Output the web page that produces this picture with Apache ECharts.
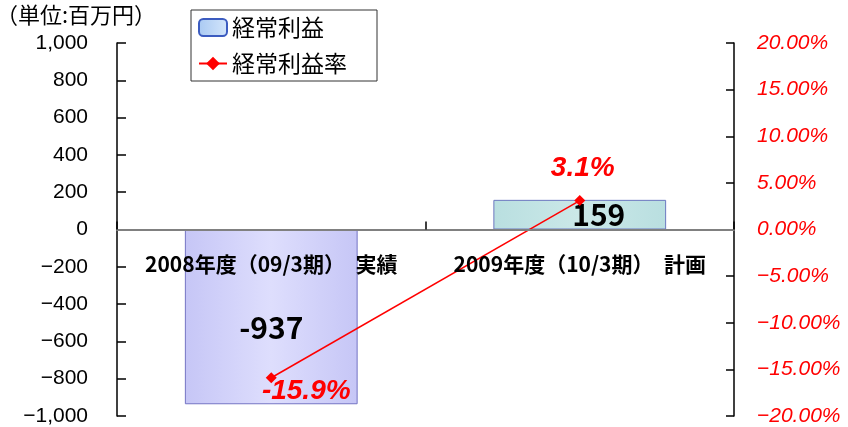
<!DOCTYPE html>
<html>
<head>
<meta charset="utf-8">
<script src="https://cdn.jsdelivr.net/npm/echarts@6/dist/echarts.min.js"></script>
<style>
  html, body { margin: 0; padding: 0; background: #fff; }
  #main { width: 848px; height: 427px; }
</style>
</head>
<body>
<div id="main"></div>
<script>
// data
const categories = ['2008年度（09/3期）　実績', '2009年度（10/3期）　計画'];
const profit = [-937, 159];          // 経常利益 (百万円)
const profitRate = [-15.9, 3.1];     // 経常利益率 (%)
const leftRange = [-1000, 1000, 200];
const rightRange = [-20, 20, 5];

const jpFont = '"Noto Sans CJK JP", "Noto Sans", sans-serif';

function barGrad(edge, mid) {
  return new echarts.graphic.LinearGradient(0, 0, 1, 0, [
    { offset: 0, color: edge },
    { offset: 0.5, color: mid },
    { offset: 1, color: edge }
  ]);
}

// per-bar looks and label nudges
const barStyles = [
  { color: barGrad('#c6c6f6', '#dedefd'), borderColor: '#7474c4' },
  { color: barGrad('#b9dfe0', '#cbe8e8'), borderColor: '#6c78c0' }
];
const barLabelOffsets = [[0, 11], [19, 0]];
const rateLabelPos = ['bottom', 'top'];
const rateLabelOffsets = [[35, -18], [3, -1]];

const fmtNum = v => {
  const s = Math.abs(v).toLocaleString('en-US');
  return v < 0 ? '\u2212' + s : s;
};
const fmtPct = v => {
  const s = Math.abs(v).toFixed(2) + '%';
  return v < 0 ? '\u2212' + s : s;
};

// grid box in px; the category axis sits on the zero line
const gridTop = 43, gridBottom = 11, chartH = 427;
const zeroY = gridTop + (chartH - gridTop - gridBottom) / 2;

const chart = echarts.init(document.getElementById('main'));
chart.setOption({
  animation: false,
  textStyle: { fontFamily: jpFont },
  title: {
    text: '（単位:百万円）',
    left: -9, top: -1,
    textStyle: { fontSize: 22, fontWeight: 'normal', color: '#000', fontFamily: jpFont }
  },
  legend: {
    orient: 'vertical',
    left: 191, top: 10,
    padding: [6, 30, 6, 7],
    borderColor: '#333', borderWidth: 1,
    itemWidth: 28, itemHeight: 17,
    itemGap: 13,
    textStyle: { fontSize: 23, color: '#000', fontFamily: jpFont },
    data: ['経常利益', '経常利益率']
  },
  grid: {
    left: 117, right: 114, top: gridTop, bottom: gridBottom,
    containLabel: false, outerBoundsMode: 'none'
  },
  xAxis: {
    type: 'category',
    data: categories,
    position: 'bottom',
    offset: -(chartH - gridBottom - zeroY),
    z: 10,
    axisLine: { onZero: false, lineStyle: { color: '#808080', width: 2 } },
    axisTick: { show: true, interval: 0, inside: true, length: 8, lineStyle: { color: '#000', width: 1.5 } },
    axisLabel: {
      interval: 0, hideOverlap: false, margin: 24,
      fontSize: 21, fontWeight: 'bold', color: '#000', fontFamily: jpFont
    }
  },
  yAxis: [
    {
      type: 'value',
      min: leftRange[0], max: leftRange[1], interval: leftRange[2],
      splitLine: { show: false },
      axisLine: { show: true, lineStyle: { color: '#000', width: 1.5 } },
      axisTick: { show: true, inside: true, length: 9, lineStyle: { color: '#000', width: 1.5 } },
      axisLabel: {
        margin: 29, fontSize: 21, color: '#000', fontFamily: 'Liberation Sans, Arial, sans-serif',
        formatter: fmtNum
      }
    },
    {
      type: 'value',
      min: rightRange[0], max: rightRange[1], interval: rightRange[2],
      splitLine: { show: false },
      axisLine: { show: true, lineStyle: { color: '#000', width: 1.5 } },
      axisTick: { show: true, inside: true, length: 8, lineStyle: { color: '#000', width: 1.5 } },
      axisLabel: {
        margin: 23, fontSize: 21, color: '#ff0000', fontStyle: 'italic',
        fontFamily: 'Liberation Sans, Arial, sans-serif',
        formatter: fmtPct
      }
    }
  ],
  series: [
    {
      name: '経常利益',
      type: 'bar',
      barWidth: '56%',
      itemStyle: {
        color: new echarts.graphic.LinearGradient(0, 0, 1, 0, [
          { offset: 0, color: '#a9c9f2' },
          { offset: 1, color: '#d4e6fb' }
        ]),
        borderColor: '#3c5cc0', borderWidth: 1
      },
      data: profit.map((v, i) => ({
        value: v,
        itemStyle: { color: barStyles[i].color, borderColor: barStyles[i].borderColor, borderWidth: 1 },
        label: {
          show: true, position: 'inside', offset: barLabelOffsets[i],
          fontSize: 30, fontWeight: 'bold', color: '#000', fontFamily: jpFont,
          formatter: p => (p.value < 0 ? '-' : '') + Math.abs(p.value)
        }
      })),
      z: 1
    },
    {
      name: '経常利益率',
      type: 'line',
      yAxisIndex: 1,
      symbol: 'diamond',
      symbolSize: 11,
      lineStyle: { color: '#ff0000', width: 1.5 },
      itemStyle: { color: '#ff0000' },
      data: profitRate.map((v, i) => ({
        value: v,
        label: {
          show: true, position: rateLabelPos[i], offset: rateLabelOffsets[i], distance: 12,
          fontSize: 28, fontWeight: 'bold', fontStyle: 'italic', color: '#ff0000',
          fontFamily: 'Liberation Sans, Arial, sans-serif',
          formatter: p => (p.value < 0 ? '-' : '') + Math.abs(p.value).toFixed(1) + '%'
        }
      })),
      z: 3
    }
  ]
});
</script>
</body>
</html>
